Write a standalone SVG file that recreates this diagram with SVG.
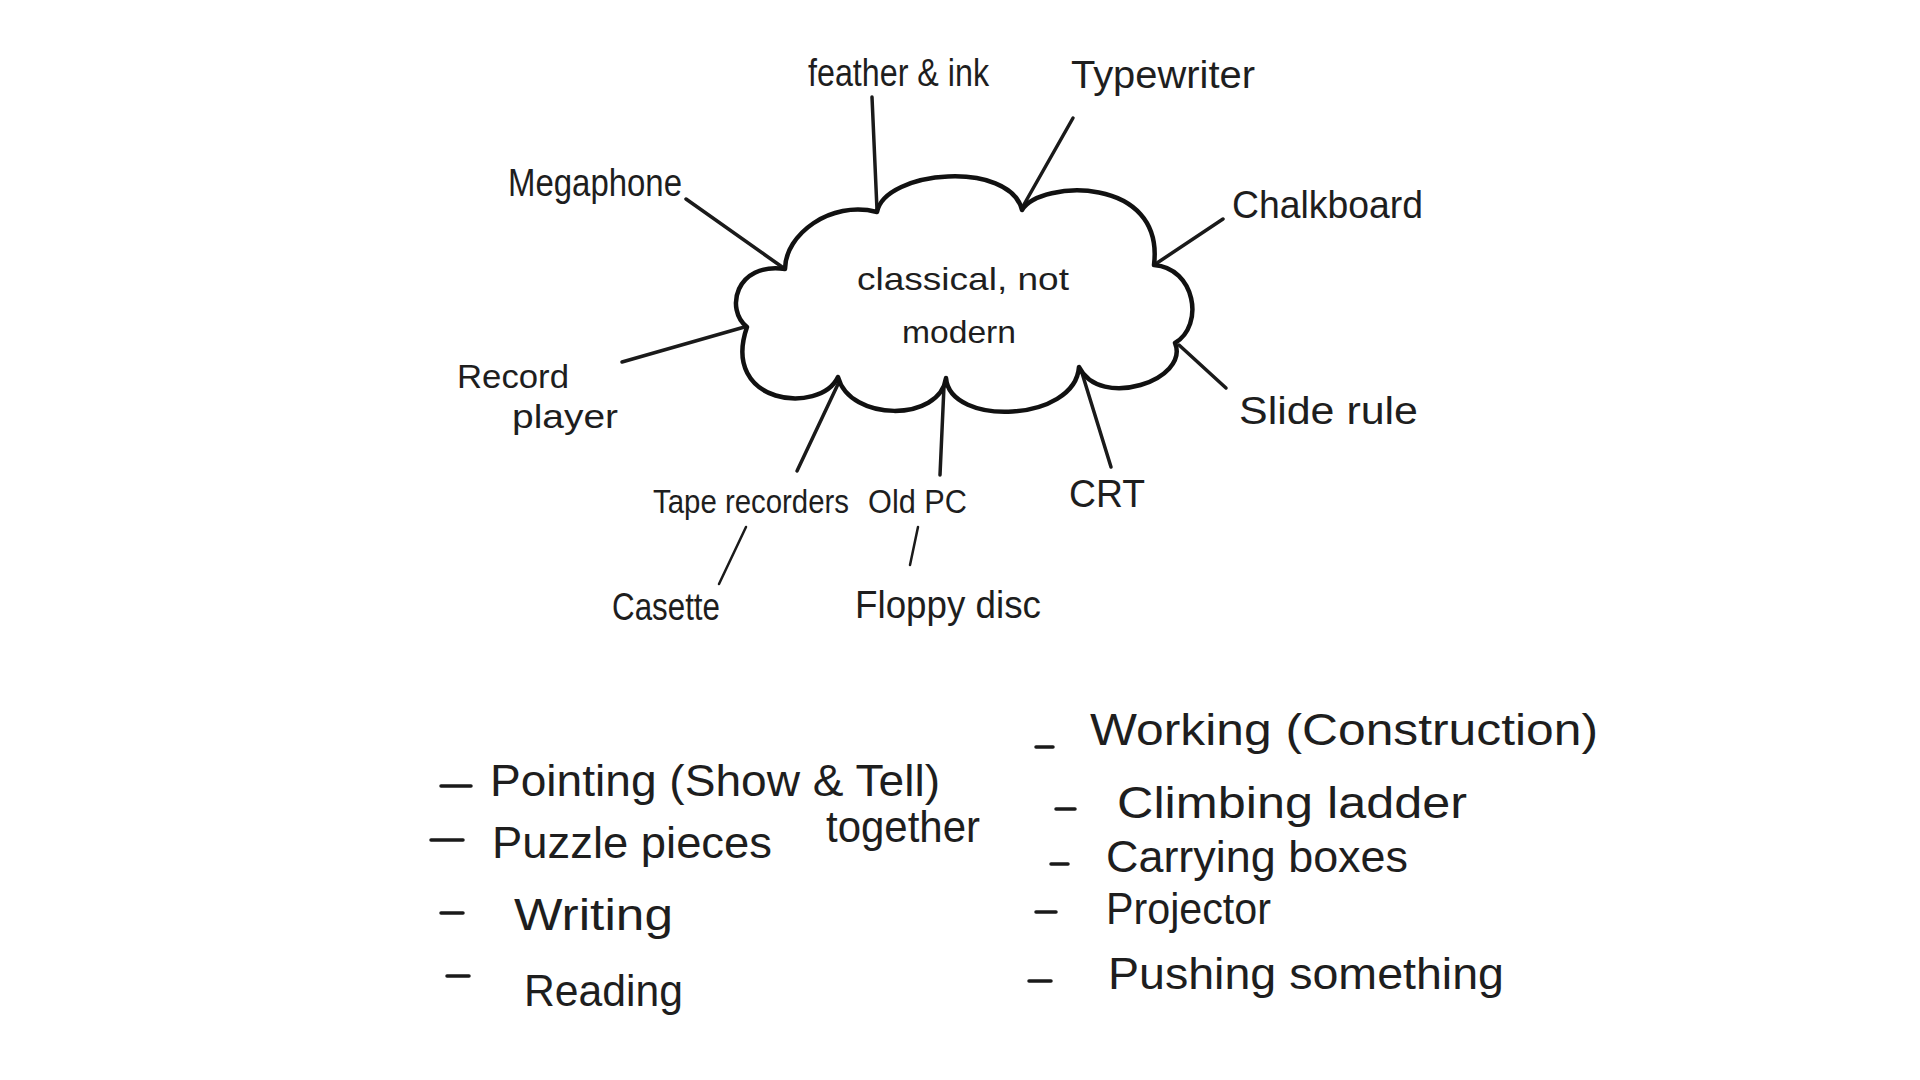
<svg xmlns="http://www.w3.org/2000/svg" width="1920" height="1080" viewBox="0 0 1920 1080">
<style>
text{font-family:"Liberation Sans","DejaVu Sans",sans-serif;fill:#1e1e1e}
.lbl{font-size:38px}
.sm{font-size:34px}
.tp{font-size:33px}
.ctr{font-size:32px}
.lst{font-size:44px}
.ln{stroke:#1a1a1a;stroke-width:3.5;stroke-linecap:round;fill:none}
.thin{stroke:#1a1a1a;stroke-width:2.5;stroke-linecap:round;fill:none}
.cloud{stroke:#111;stroke-width:4.5;fill:#fff;stroke-linejoin:round}
</style>
<rect width="1920" height="1080" fill="#fff"/>
<g id="connectors">
<line class="ln" x1="872" y1="97" x2="877" y2="210"/>
<line class="ln" x1="1073" y1="118" x2="1022" y2="208"/>
<line class="ln" x1="686" y1="199" x2="785" y2="269"/>
<line class="ln" x1="1223" y1="219" x2="1157" y2="263"/>
<line class="ln" x1="622" y1="362" x2="748" y2="326"/>
<line class="ln" x1="1226" y1="388" x2="1179" y2="345"/>
<line class="ln" x1="839" y1="382" x2="797" y2="471"/>
<line class="ln" x1="944" y1="386" x2="940" y2="475"/>
<line class="ln" x1="1082" y1="373" x2="1111" y2="467"/>
<line class="thin" x1="746" y1="527" x2="719" y2="584"/>
<line class="thin" x1="918" y1="527" x2="910" y2="565"/>
</g>
<g id="center">
<path class="cloud" d="M 785 269 C 785 235, 830 200, 877 212 C 885 170, 1010 160, 1022 210 C 1040 180, 1165 175, 1154 265 C 1195 268, 1205 325, 1175 343 C 1190 380, 1100 410, 1079 367 C 1075 422, 950 427, 946 378 C 940 422, 850 422, 838 377 C 820 415, 720 405, 747 327 C 725 310, 735 262, 785 269 Z"/>
<text class="ctr" x="857" y="290" textLength="212" lengthAdjust="spacingAndGlyphs">classical,  not</text>
<text class="ctr" x="902" y="343" textLength="114" lengthAdjust="spacingAndGlyphs">modern</text>
</g>
<g id="feather"><text class="lbl" x="808" y="86" textLength="181" lengthAdjust="spacingAndGlyphs">feather &amp; ink</text></g>
<g id="typewriter"><text class="lbl" x="1071" y="88" textLength="184" lengthAdjust="spacingAndGlyphs">Typewriter</text></g>
<g id="megaphone"><text class="lbl" x="508" y="196" textLength="174" lengthAdjust="spacingAndGlyphs">Megaphone</text></g>
<g id="chalkboard"><text class="lbl" x="1232" y="218" textLength="191" lengthAdjust="spacingAndGlyphs">Chalkboard</text></g>
<g id="record"><text class="sm" x="457" y="388" textLength="112" lengthAdjust="spacingAndGlyphs">Record</text><text class="sm" x="512" y="428" textLength="106" lengthAdjust="spacingAndGlyphs">player</text></g>
<g id="sliderule"><text class="lbl" x="1239" y="424" textLength="179" lengthAdjust="spacingAndGlyphs">Slide rule</text></g>
<g id="crt"><text class="lbl" x="1069" y="507" textLength="76" lengthAdjust="spacingAndGlyphs">CRT</text></g>
<g id="tape"><text class="tp" x="653" y="513" textLength="196" lengthAdjust="spacingAndGlyphs">Tape recorders</text></g>
<g id="oldpc"><text class="tp" x="868" y="513" textLength="99" lengthAdjust="spacingAndGlyphs">Old PC</text></g>
<g id="cassette"><text class="lbl" x="612" y="620" textLength="108" lengthAdjust="spacingAndGlyphs">Casette</text></g>
<g id="floppy"><text class="lbl" x="855" y="618" textLength="186" lengthAdjust="spacingAndGlyphs">Floppy disc</text></g>
<g id="list-left">
<line class="ln" x1="441" y1="786" x2="471" y2="786"/>
<text class="lst" x="490" y="796" textLength="450" lengthAdjust="spacingAndGlyphs">Pointing (Show &amp; Tell)</text>
<line class="ln" x1="431" y1="840" x2="463" y2="840"/>
<text class="lst" x="492" y="858" textLength="280" lengthAdjust="spacingAndGlyphs">Puzzle pieces</text>
<text class="lst" x="826" y="842" textLength="154" lengthAdjust="spacingAndGlyphs">together</text>
<line class="ln" x1="441" y1="913" x2="463" y2="913"/>
<text class="lst" x="514" y="930" textLength="159" lengthAdjust="spacingAndGlyphs">Writing</text>
<line class="ln" x1="447" y1="976" x2="469" y2="976"/>
<text class="lst" x="524" y="1006" textLength="159" lengthAdjust="spacingAndGlyphs">Reading</text>
</g>
<g id="list-right">
<line class="ln" x1="1036" y1="747" x2="1053" y2="747"/>
<text class="lst" x="1090" y="745" textLength="508" lengthAdjust="spacingAndGlyphs">Working (Construction)</text>
<line class="ln" x1="1056" y1="809" x2="1075" y2="809"/>
<text class="lst" x="1117" y="818" textLength="350" lengthAdjust="spacingAndGlyphs">Climbing  ladder</text>
<line class="ln" x1="1051" y1="864" x2="1068" y2="864"/>
<text class="lst" x="1106" y="872" textLength="302" lengthAdjust="spacingAndGlyphs">Carrying boxes</text>
<line class="ln" x1="1036" y1="912" x2="1056" y2="912"/>
<text class="lst" x="1106" y="924" textLength="165" lengthAdjust="spacingAndGlyphs">Projector</text>
<line class="ln" x1="1029" y1="981" x2="1051" y2="981"/>
<text class="lst" x="1108" y="989" textLength="396" lengthAdjust="spacingAndGlyphs">Pushing  something</text>
</g>
</svg>
